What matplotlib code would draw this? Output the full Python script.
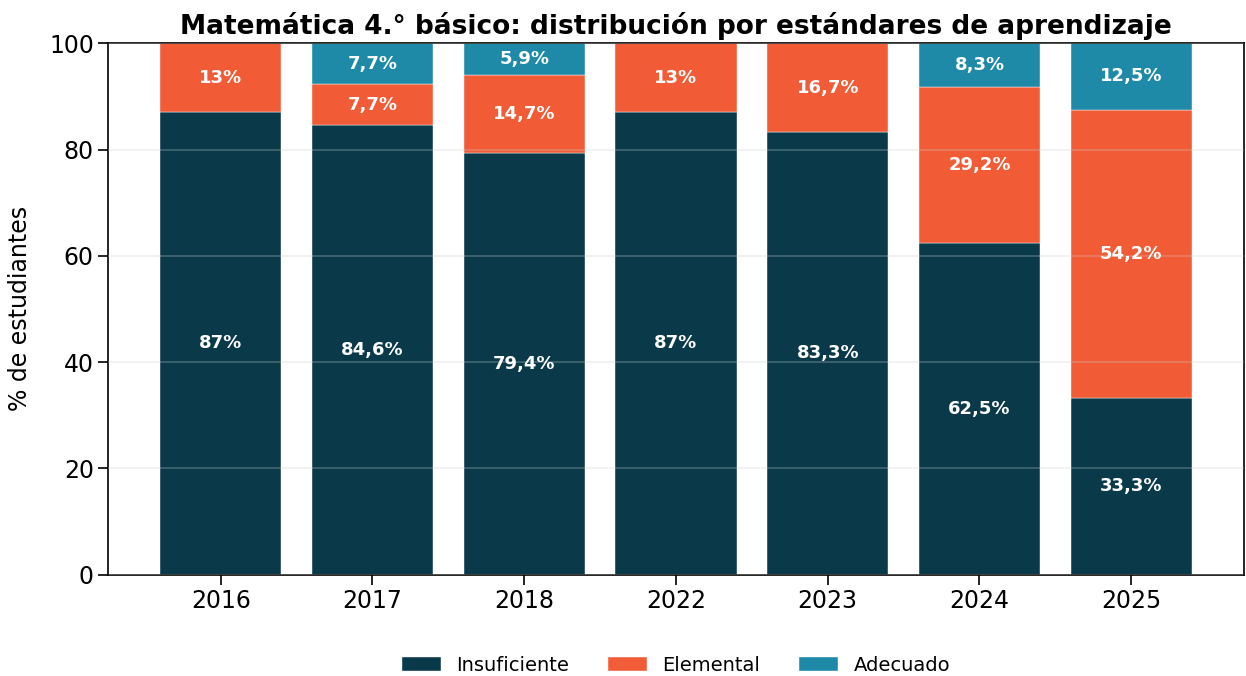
import numpy as np
import matplotlib
matplotlib.use("Agg")
import matplotlib.pyplot as plt

# Datos: % de estudiantes por nivel de aprendizaje
anios = ['2016', '2017', '2018', '2022', '2023', '2024', '2025']
insuficiente = [87.0, 84.6, 79.4, 87.0, 83.3, 62.5, 33.3]
elemental = [13.0, 7.7, 14.7, 13.0, 16.7, 29.2, 54.2]
adecuado = [0.0, 7.7, 5.9, 0.0, 0.0, 8.3, 12.5]

niveles = ['Insuficiente', 'Elemental', 'Adecuado']
colores = ['#0a3a4a', '#f15c37', '#1f8aa7']


def fmt(v):
    if abs(v - round(v)) < 1e-9:
        return f"{int(round(v))}%"
    return f"{v:.1f}%".replace('.', ',')


fig, ax = plt.subplots(figsize=(12.46, 6.76), dpi=100)
x = np.arange(len(anios))
base = np.zeros(len(anios))
for nombre, vals, col in zip(niveles, [insuficiente, elemental, adecuado], colores):
    vals = np.array(vals)
    ax.bar(x, vals, 0.8, bottom=base, color=col, label=nombre,
           edgecolor='white', linewidth=0.3, zorder=2)
    for xi, b, v in zip(x, base, vals):
        if v > 0:
            ax.text(xi, b + v / 2, fmt(v), ha='center', va='center',
                    color='white', fontsize=13, fontweight='bold', zorder=4)
    base += vals

ax.set_ylim(0, 100)
ax.set_xticks(x)
ax.set_xticklabels(anios)
ax.tick_params(labelsize=17, length=7, width=1.2)
for s in ax.spines.values():
    s.set_linewidth(1.2)
ax.yaxis.grid(True, color='#cccccc', alpha=0.3, linewidth=1.2, zorder=3)
ax.set_axisbelow(False)
ax.set_ylabel('% de estudiantes', fontsize=17, labelpad=12)
ax.set_title('Matemática 4.° básico: distribución por estándares de aprendizaje',
             fontsize=19, fontweight='bold', pad=7)
ax.legend(loc='upper center', bbox_to_anchor=(0.5, -0.12), ncol=3,
          frameon=False, fontsize=14, columnspacing=2.0)

plt.subplots_adjust(left=0.087, right=0.998, top=0.936, bottom=0.15)
plt.savefig('out.png', dpi=100)
